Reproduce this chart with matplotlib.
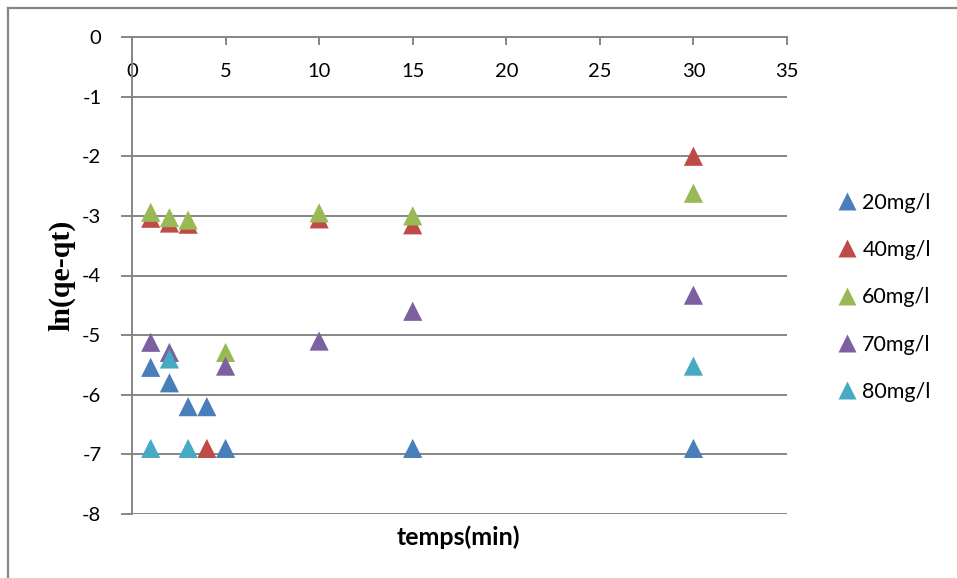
import matplotlib
matplotlib.use("Agg")
import matplotlib.pyplot as plt
from matplotlib.lines import Line2D

# Kinetic data: ln(qe-qt) versus contact time for each initial concentration
t_20 = [1, 2, 3, 4, 5, 15, 30]
y_20 = [-5.54, -5.8, -6.2, -6.2, -6.9, -6.9, -6.9]

t_40 = [1, 2, 3, 4, 10, 15, 30]
y_40 = [-3.04, -3.12, -3.14, -6.9, -3.05, -3.15, -2.0]

t_60 = [1, 2, 3, 5, 10, 15, 30]
y_60 = [-2.94, -3.03, -3.07, -5.29, -2.95, -3.0, -2.62]

t_70 = [1, 2, 5, 10, 15, 30]
y_70 = [-5.12, -5.29, -5.52, -5.1, -4.6, -4.33]

t_80 = [1, 2, 3, 30]
y_80 = [-6.9, -5.4, -6.9, -5.52]

series_labels = ["20mg/l", "40mg/l", "60mg/l", "70mg/l", "80mg/l"]
series_colors = ["#4a7ebb", "#be4b48", "#98b954", "#7d60a0", "#46aac5"]

x_ticks = [0, 5, 10, 15, 20, 25, 30, 35]
y_ticks = [0, -1, -2, -3, -4, -5, -6, -7, -8]

plt.rcParams["font.family"] = ["Lato", "DejaVu Sans"]

W, H = 957, 578
fig = plt.figure(figsize=(W / 100, H / 100), dpi=100)
ax = fig.add_axes([132 / W, 1 - 514 / H, (787 - 132) / W, (514 - 37) / H])

grey = "#868686"

# x axis sits on y = 0 at the top of the plot area
for side in ("top", "right"):
    ax.spines[side].set_visible(False)
ax.spines["bottom"].set_position(("data", 0))
ax.spines["bottom"].set_color(grey)
ax.spines["bottom"].set_linewidth(1.4)
ax.spines["left"].set_color(grey)
ax.spines["left"].set_linewidth(1.4)

data = [(t_20, y_20), (t_40, y_40), (t_60, y_60), (t_70, y_70), (t_80, y_80)]
for (tx, ty), lab, col in zip(data, series_labels, series_colors):
    ax.scatter(tx, ty, marker="^", s=190, color=col, edgecolors="none",
               label=lab, zorder=3, clip_on=False)

ax.set_xlim(0, 35)
ax.set_ylim(-8, 0)
ax.set_xticks(x_ticks)
ax.set_yticks(y_ticks)
ax.set_xticklabels([str(v) for v in x_ticks])
ax.set_yticklabels([str(v) for v in y_ticks])

# Horizontal gridlines only
ax.yaxis.grid(True, color=grey, linewidth=1.4)
ax.xaxis.grid(False)
ax.set_axisbelow(True)

ax.tick_params(axis="x", direction="out", length=6, width=1.4, color=grey,
               pad=13, labelsize=14.5)
ax.tick_params(axis="y", direction="out", length=8, width=1.4, color=grey,
               pad=14, labelsize=14.5)

ax.set_xlabel("temps(min)", fontdict=dict(family=["Lato", "DejaVu Sans"],
              size=18, weight="bold"))
ax.xaxis.set_label_coords(0.499, -0.024)
ax.set_ylabel("ln(qe-qt)", fontdict=dict(family=["Liberation Serif", "DejaVu Serif"],
              size=21.5, weight="bold"))
ax.yaxis.set_label_coords(-0.087, 0.5)

handles = [Line2D([], [], marker="^", linestyle="none", markersize=13,
                  markerfacecolor=c, markeredgecolor="none") for c in series_colors]
leg = fig.legend(handles, series_labels, loc="upper left",
                 bbox_to_anchor=(830 / W, 1 - 184 / H), frameon=False,
                 prop=dict(family=["Lato", "DejaVu Sans"], size=15.5),
                 handlelength=0.8, handletextpad=0.3, labelspacing=1.27,
                 borderaxespad=0)

# Chart frame lines along the top and left edges
fig.add_artist(Line2D([8 / W, 1], [1 - 7.5 / H, 1 - 7.5 / H], color=grey,
                      linewidth=1.6, transform=fig.transFigure))
fig.add_artist(Line2D([8 / W, 8 / W], [0, 1 - 7.5 / H], color=grey,
                      linewidth=1.6, transform=fig.transFigure))

fig.savefig("out.png", dpi=100, facecolor="white")
